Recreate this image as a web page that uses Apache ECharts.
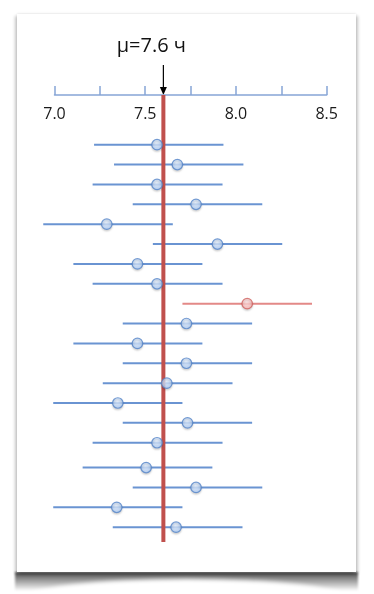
<!DOCTYPE html>
<html>
<head>
<meta charset="utf-8">
<script src="https://cdn.jsdelivr.net/npm/echarts@6/dist/echarts.min.js"></script>
<style>
  html, body { margin: 0; padding: 0; background: #fff; width: 374px; height: 594px; overflow: hidden; }
  #card {
    position: absolute; left: 17px; top: 14px; width: 339px; height: 558px;
    background: #fff;
    box-shadow: -2px 2px 3px rgba(0,0,0,0.22), 2px 2px 3px rgba(0,0,0,0.22), 0 -1px 2px rgba(0,0,0,0.06);
  }
  #shadowBand {
    position: absolute; left: 15px; top: 572px; width: 343px; height: 19px;
    background: linear-gradient(to bottom, rgba(0,0,0,0.7), rgba(0,0,0,0.35) 50%, rgba(0,0,0,0));
    filter: blur(1px);
  }
  #shadowCut {
    position: absolute; left: 25px; top: 579px; width: 323px; height: 40px;
    background: #fff; border-radius: 50%; filter: blur(2px);
  }
  #chart { position: absolute; left: 0; top: 0; width: 374px; height: 594px; }
</style>
</head>
<body>
<div id="shadowBand"></div>
<div id="shadowCut"></div>
<div id="card"></div>
<div id="chart"></div>
<script>
// ---- data ----
const mu = 7.6;
const muLabel = 'μ=7.6 ч';
const sampleMeans = [7.565, 7.677, 7.565, 7.78, 7.288, 7.898, 7.457, 7.565, 8.062, 7.727,
                     7.457, 7.727, 7.619, 7.349, 7.733, 7.565, 7.505, 7.78, 7.343, 7.67];
const lowerBounds = [7.218, 7.328, 7.21, 7.431, 6.938, 7.542, 7.104, 7.21, 7.705, 7.376,
                     7.104, 7.376, 7.266, 6.993, 7.376, 7.21, 7.155, 7.431, 6.993, 7.321];
const upperBounds = [7.931, 8.041, 7.926, 8.145, 7.652, 8.255, 7.815, 7.926, 8.419, 8.089,
                     7.815, 8.089, 7.981, 7.705, 8.089, 7.926, 7.87, 8.145, 7.705, 8.036];
const rowPositions = [1, 2, 3, 4, 5, 6, 7, 8, 9, 10, 11, 12, 13, 14, 15, 16, 17.25, 18.25, 19.25, 20.25];
const xLabels = ['7.0', '7.5', '8.0', '8.5'];

const xMin = 7.0, xMax = 8.5, yMin = -1.5, yMax = 21;

const chart = echarts.init(document.getElementById('chart'), null, { renderer: 'canvas' });

function missed(i) { return lowerBounds[i] > mu || upperBounds[i] < mu; }

const barData = sampleMeans.map((m, i) => [lowerBounds[i], upperBounds[i], m, rowPositions[i], missed(i) ? 1 : 0]);

const pointData = sampleMeans.map((m, i) => {
  const miss = missed(i);
  return {
    value: [m, rowPositions[i]],
    itemStyle: {
      color: new echarts.graphic.RadialGradient(0.45, 0.35, 0.75, miss ? [
        { offset: 0, color: '#ffe4e4' }, { offset: 1, color: '#f7a3a1' }
      ] : [
        { offset: 0, color: '#e4effd' }, { offset: 1, color: '#9cc0f2' }
      ]),
      borderColor: miss ? '#d0625f' : '#5584c8',
      borderWidth: 1.2,
      shadowColor: 'rgba(0,0,0,0.18)',
      shadowBlur: 2,
      shadowOffsetY: 1.5
    }
  };
});

const option = {
  backgroundColor: 'transparent',
  animation: false,
  grid: { left: 54.5, right: 47.3, top: 95, height: 447.1, containLabel: false },
  xAxis: {
    type: 'value', position: 'top', min: xMin, max: xMax, interval: 0.25,
    splitLine: { show: false },
    axisLine: { show: true, onZero: false, lineStyle: { color: '#86a5d6', width: 1.5 } },
    axisTick: { show: true, length: 9, inside: false, lineStyle: { color: '#86a5d6', width: 1.5 } },
    axisLabel: {
      inside: true, margin: 11, color: '#1a1a1a', fontSize: 16, fontFamily: 'Open Sans',
      formatter: v => { const s = Number(v).toFixed(1); return xLabels.indexOf(s) >= 0 && Math.abs(v * 2 - Math.round(v * 2)) < 1e-6 ? s : ''; }
    }
  },
  yAxis: {
    type: 'value', inverse: true, min: yMin, max: yMax, show: false
  },
  series: [
    {
      type: 'custom', z: 2, data: barData,
      renderItem: (params, api) => {
        const y = api.value(3);
        const a = api.coord([api.value(0), y]);
        const b = api.coord([api.value(1), y]);
        const miss = api.value(4) === 1;
        return {
          type: 'line',
          shape: { x1: a[0], y1: a[1], x2: b[0], y2: b[1] },
          style: { stroke: miss ? '#e38987' : '#6a94d2', lineWidth: 2 }
        };
      }
    },
    {
      type: 'line', z: 3, symbol: 'none', silent: true,
      data: [[mu, yMin], [mu, yMax]],
      lineStyle: { color: '#c0504d', width: 4 }
    },
    {
      type: 'scatter', z: 4, symbol: 'circle', symbolSize: 10.5,
      data: pointData
    }
  ]
};
chart.setOption(option);

const p = chart.convertToPixel({ xAxisIndex: 0, yAxisIndex: 0 }, [mu, yMin]);
chart.setOption({
  graphic: [
    {
      type: 'text', x: p[0] - 12, y: p[1] - 49,
      style: { text: muLabel, fill: '#111', font: '20px "Open Sans"', textAlign: 'center', textVerticalAlign: 'middle' }
    },
    {
      type: 'line', shape: { x1: p[0], y1: p[1] - 30, x2: p[0], y2: p[1] - 6 },
      style: { stroke: '#000', lineWidth: 1.2 }
    },
    {
      type: 'polygon', shape: { points: [[p[0] - 3.5, p[1] - 8], [p[0] + 3.5, p[1] - 8], [p[0], p[1]]] },
      style: { fill: '#000' }
    }
  ]
});
</script>
</body>
</html>
